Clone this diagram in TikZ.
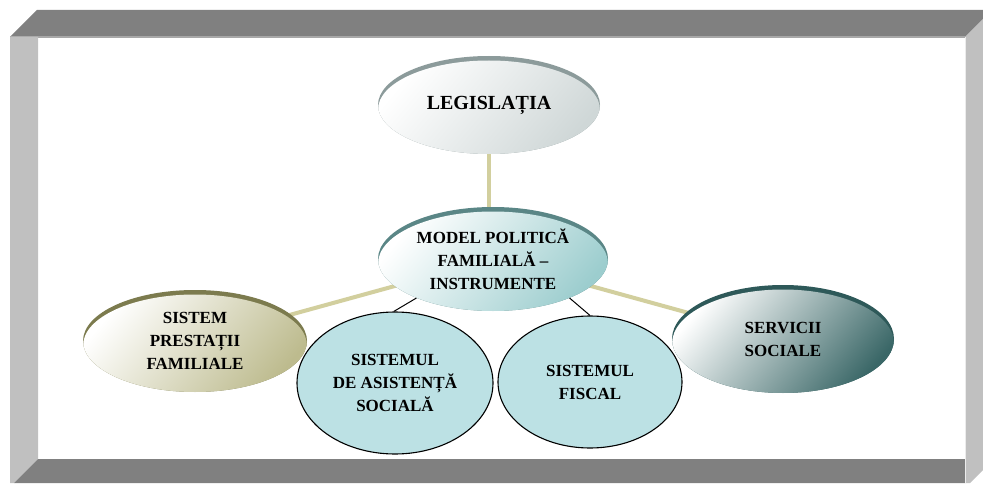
\documentclass[tikz,border=0pt]{standalone}
\usepackage{fontspec}
\setmainfont{Liberation Serif}
\usetikzlibrary{shapes.geometric}
\pgfdeclarelayer{frame}
\pgfdeclarelayer{background}
\pgfsetlayers{frame,background,main}
\definecolor{frameDark}{HTML}{808080}
\definecolor{frameLight}{HTML}{C0C0C0}
\definecolor{frameLine}{HTML}{A8A8A8}
\definecolor{khaki}{HTML}{D2CF9E}
\definecolor{legArc}{HTML}{8C9B9B}
\definecolor{legFill}{HTML}{CFD7D7}
\definecolor{modArc}{HTML}{5A8686}
\definecolor{modFill}{HTML}{9CCDCE}
\definecolor{preArc}{HTML}{7C7B4E}
\definecolor{preFill}{HTML}{BDBB8E}
\definecolor{serArc}{HTML}{2E5959}
\definecolor{serFill}{HTML}{3A6767}
\definecolor{blueFill}{HTML}{BCE1E4}
\tikzset{
  x=1pt, y=1pt,
  bub/.style n args={4}{ellipse, inner sep=0pt, minimum width=#1, minimum height=#2,
    fill=#3, align=center,
    path picture={\shade[top color=white, middle color=white!80!#4, bottom color=#4, shading angle=50]
      ([yshift=-4.5pt]path picture bounding box.center) ellipse [x radius=#1/2, y radius=#2/2];}},
  txt/.style={font=\bfseries\fontsize{17}{23}\selectfont},
  bluebub/.style={ellipse, inner sep=0pt, draw=black, line width=1.1pt, fill=blueFill, align=center},
  khakiline/.style={draw=khaki, line width=4pt},
  blackline/.style={draw=black, line width=1pt}
}
\begin{document}
\begin{tikzpicture}
\useasboundingbox (0,0) rectangle (983,483);
% frame
\begin{pgfonlayer}{frame}
\fill[white] (38,24) rectangle (965,446);
\fill[frameDark] (10,446) -- (37,473) -- (983,473) -- (983,464) -- (965,446) -- cycle;
\draw[frameLine, line width=1.2pt] (10,446) -- (965,446);
\fill[frameLight] (10,446) -- (38,446) -- (38,24) -- (14,0) -- (10,0) -- cycle;
\fill[frameDark] (38,24) -- (965,24) -- (965,0) -- (14,0) -- cycle;
\fill[frameLight] (965,446) -- (983,464) -- (983,13) -- (970,0) -- (965,0) -- cycle;
\draw[white!85!gray, line width=0.8pt] (965.4,446) -- (965.4,0);
\end{pgfonlayer}
% bubbles
\node[bub={222pt}{98pt}{legArc}{legFill}, txt, font=\bfseries\fontsize{20}{24}\selectfont] (leg) at (489,378) {LEGISLAȚIA};
\node[bub={230pt}{104pt}{modArc}{modFill}, txt] (mod) at (493,224) {MODEL POLITICĂ\\FAMILIALĂ –\\INSTRUMENTE};
\node[bub={224pt}{102pt}{preArc}{preFill}, txt] (pre) at (195,142) {SISTEM\\PRESTAȚII\\FAMILIALE};
\node[bub={222pt}{108pt}{serArc}{serFill}, txt] (ser) at (783,144) {SERVICII\\SOCIALE};
\node[bluebub, txt, minimum width=196pt, minimum height=142pt] (asi) at (395,100) {SISTEMUL\\DE ASISTENȚĂ\\SOCIALĂ};
\node[bluebub, txt, minimum width=184pt, minimum height=132pt] (fis) at (590,101) {SISTEMUL\\FISCAL};
% connectors
\begin{pgfonlayer}{background}
\draw[khakiline] (leg.center) -- (leg.center |- mod.center);
\draw[khakiline] (mod.center) -- (pre.center);
\draw[khakiline] (mod.center) -- (ser.center);
\end{pgfonlayer}
\draw[blackline] (mod.207) -- (asi.91);
\draw[blackline] (mod.333) -- (fis.90);
\end{tikzpicture}
\end{document}
